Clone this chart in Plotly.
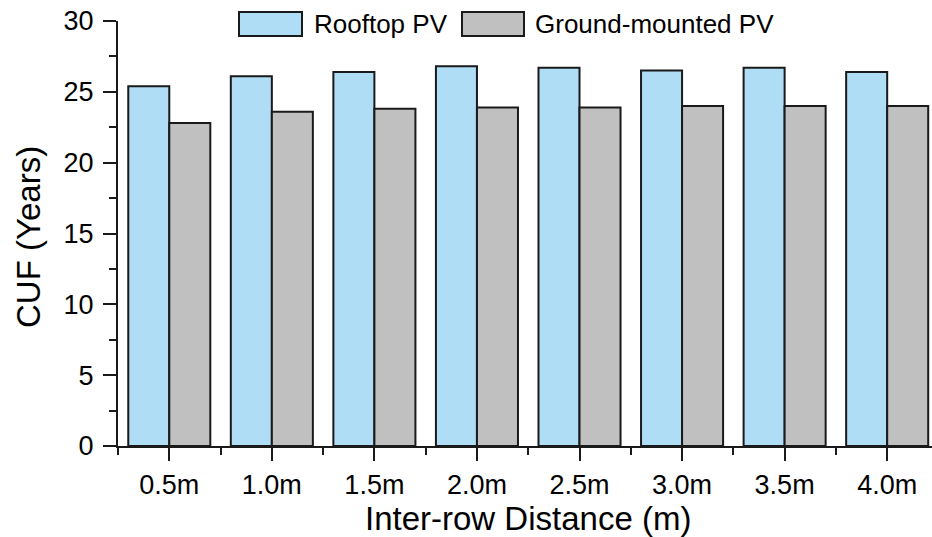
import plotly.graph_objects as go

# Inter-row spacing categories and CUF values (years)
distances = ["0.5m", "1.0m", "1.5m", "2.0m", "2.5m", "3.0m", "3.5m", "4.0m"]
rooftop_pv = [25.4, 26.1, 26.4, 26.8, 26.7, 26.5, 26.7, 26.4]
ground_pv = [22.8, 23.6, 23.8, 23.9, 23.9, 24.0, 24.0, 24.0]
series_names = ["Rooftop PV", "Ground-mounted PV"]
series_colors = ["#AEDDF5", "#C0C0C0"]

W, H = 932, 537
ML, MR, MT, MB = 118, 0, 21, 91
PW, PH = W - ML - MR, H - MT - MB
FONT = "Liberation Sans, Arial, sans-serif"
INK = "#1a1a1a"


def px_x(px):
    return (px - ML) / PW


def px_y(py):
    return (H - MB - py) / PH


xpos = list(range(len(distances)))

fig = go.Figure()
for name, vals, col in zip(series_names, [rooftop_pv, ground_pv], series_colors):
    fig.add_trace(go.Bar(
        x=xpos, y=vals, name=name,
        marker=dict(color=col, line=dict(color=INK, width=2)),
        showlegend=False,
    ))

fig.update_layout(
    width=W, height=H,
    margin=dict(l=ML, r=MR, t=MT, b=MB, pad=0),
    paper_bgcolor="white", plot_bgcolor="white",
    barmode="group", bargap=0.2, bargroupgap=0,
    font=dict(family=FONT, color="black"),
)

fig.update_xaxes(
    range=[-0.5, 7.437],
    tickmode="array", tickvals=xpos, ticktext=distances,
    ticks="outside", ticklen=13, tickwidth=2, tickcolor=INK,
    minor=dict(ticks="outside", ticklen=7, tickwidth=2, tickcolor=INK,
               tick0=-0.5, dtick=1),
    showline=True, linecolor=INK, linewidth=2,
    showgrid=False, zeroline=False,
    tickfont=dict(size=27, family=FONT, color="black"),
    ticklabelstandoff=1,
)
fig.update_yaxes(
    range=[0, 30], tick0=0, dtick=5,
    ticks="outside", ticklen=13, tickwidth=2, tickcolor=INK,
    minor=dict(ticks="outside", ticklen=7, tickwidth=2, tickcolor=INK,
               tick0=0, dtick=2.5),
    showline=True, linecolor=INK, linewidth=2,
    showgrid=False, zeroline=False,
    tickfont=dict(size=27, family=FONT, color="black"),
    ticklabelstandoff=4,
)

annotations = [
    dict(text="Inter-row Distance (m)", xref="paper", yref="paper",
         x=px_x(528), y=px_y(518), xanchor="center", yanchor="middle",
         showarrow=False, font=dict(size=33, family=FONT, color="black")),
    dict(text="CUF (Years)", xref="paper", yref="paper",
         x=px_x(28), y=px_y(237), xanchor="center", yanchor="middle",
         textangle=-90, showarrow=False,
         font=dict(size=33, family=FONT, color="black")),
]

# Legend drawn as outlined swatches with labels along the top edge
shapes = []
legend_boxes = [(239, 302, 312), (462, 524, 533)]
for (x0, x1, tx), name, col in zip(legend_boxes, series_names, series_colors):
    shapes.append(dict(type="rect", xref="paper", yref="paper",
                       x0=px_x(x0), x1=px_x(x1), y0=px_y(36), y1=px_y(12),
                       fillcolor=col, line=dict(color=INK, width=2)))
    annotations.append(dict(text=name, xref="paper", yref="paper",
                            x=px_x(tx), y=px_y(24), xanchor="left",
                            yanchor="middle", showarrow=False,
                            font=dict(size=26, family=FONT, color="black")))

fig.update_layout(annotations=annotations, shapes=shapes)
fig.write_html("out.html")
